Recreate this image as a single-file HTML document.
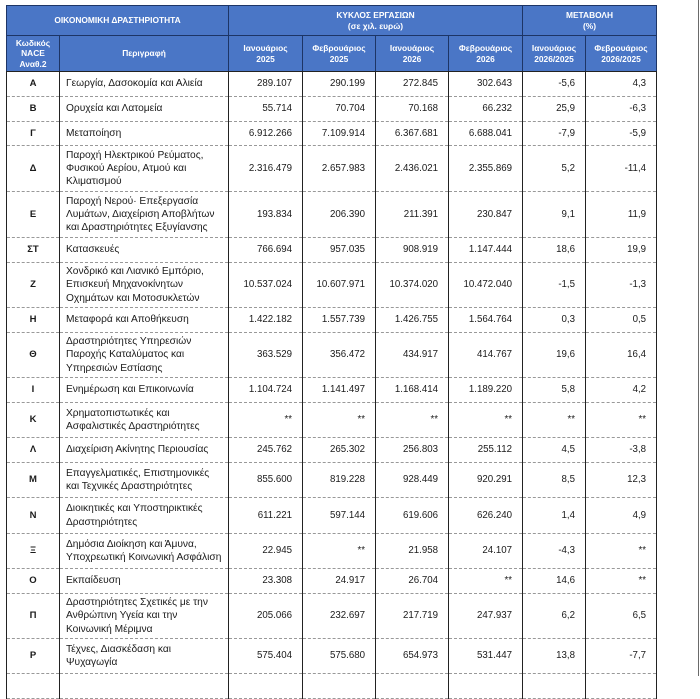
<!DOCTYPE html>
<html>
<head>
<meta charset="utf-8">
<style>
html,body{margin:0;padding:0;background:#fff;}
body{width:700px;height:676px;position:relative;overflow:hidden;font-family:"Liberation Sans","Noto Sans CJK SC",sans-serif;color:#1a1a1a;}
table{position:absolute;left:6px;top:5px;border-collapse:collapse;table-layout:fixed;width:650px;}
td,th{padding:0;font-size:9.7px;line-height:13.3px;overflow:hidden;white-space:nowrap;}
th{background:#4a76c6;color:#fff;font-weight:bold;font-size:8.4px;line-height:10.5px;border:1px solid #1d3566;text-align:center;vertical-align:middle;}
td{border-left:1px solid #222;border-right:1px solid #222;border-top:1px dashed #999;border-bottom:1px dashed #999;vertical-align:middle;}
td.c{text-align:center;font-weight:bold;font-size:9.5px;}
td.d{text-align:left;padding-left:6px;font-size:10.2px;}
td.n{text-align:right;padding-right:10px;}
tr.h2 th{border-bottom:1px solid #222;}
.rl{position:absolute;left:698px;top:0;width:1px;height:676px;background:#6a6a6a;}
</style>
</head>
<body>
<table>
<colgroup>
<col style="width:53px"><col style="width:169px"><col style="width:74px"><col style="width:73px"><col style="width:73px"><col style="width:74px"><col style="width:63px"><col style="width:71px">
</colgroup>
<tr style="height:30px"><th colspan="2">ΟΙΚΟΝΟΜΙΚΗ ΔΡΑΣΤΗΡΙΟΤΗΤΑ</th><th colspan="4">ΚΥΚΛΟΣ ΕΡΓΑΣΙΩΝ<br>(σε χιλ. ευρώ)</th><th colspan="2">ΜΕΤΑΒΟΛΗ<br>(%)</th></tr>
<tr class="h2" style="height:36px"><th>Κωδικός<br>NACE<br>Αναθ.2</th><th>Περιγραφή</th><th>Ιανουάριος<br>2025</th><th>Φεβρουάριος<br>2025</th><th>Ιανουάριος<br>2026</th><th>Φεβρουάριος<br>2026</th><th>Ιανουάριος<br>2026/2025</th><th>Φεβρουάριος<br>2026/2025</th></tr>
<tr style="height:25px"><td class="c">Α</td><td class="d">Γεωργία, Δασοκομία και Αλιεία</td><td class="n">289.107</td><td class="n">290.199</td><td class="n">272.845</td><td class="n">302.643</td><td class="n">-5,6</td><td class="n">4,3</td></tr>
<tr style="height:25px"><td class="c">Β</td><td class="d">Ορυχεία και Λατομεία</td><td class="n">55.714</td><td class="n">70.704</td><td class="n">70.168</td><td class="n">66.232</td><td class="n">25,9</td><td class="n">-6,3</td></tr>
<tr style="height:24px"><td class="c">Γ</td><td class="d">Μεταποίηση</td><td class="n">6.912.266</td><td class="n">7.109.914</td><td class="n">6.367.681</td><td class="n">6.688.041</td><td class="n">-7,9</td><td class="n">-5,9</td></tr>
<tr style="height:46px"><td class="c">Δ</td><td class="d">Παροχή Ηλεκτρικού Ρεύματος,<br>Φυσικού Αερίου, Ατμού και<br>Κλιματισμού</td><td class="n">2.316.479</td><td class="n">2.657.983</td><td class="n">2.436.021</td><td class="n">2.355.869</td><td class="n">5,2</td><td class="n">-11,4</td></tr>
<tr style="height:46px"><td class="c">Ε</td><td class="d">Παροχή Νερού· Επεξεργασία<br>Λυμάτων, Διαχείριση Αποβλήτων<br>και Δραστηριότητες Εξυγίανσης</td><td class="n">193.834</td><td class="n">206.390</td><td class="n">211.391</td><td class="n">230.847</td><td class="n">9,1</td><td class="n">11,9</td></tr>
<tr style="height:25px"><td class="c">ΣΤ</td><td class="d">Κατασκευές</td><td class="n">766.694</td><td class="n">957.035</td><td class="n">908.919</td><td class="n">1.147.444</td><td class="n">18,6</td><td class="n">19,9</td></tr>
<tr style="height:45px"><td class="c">Ζ</td><td class="d">Χονδρικό και Λιανικό Εμπόριο,<br>Επισκευή Μηχανοκίνητων<br>Οχημάτων και Μοτοσυκλετών</td><td class="n">10.537.024</td><td class="n">10.607.971</td><td class="n">10.374.020</td><td class="n">10.472.040</td><td class="n">-1,5</td><td class="n">-1,3</td></tr>
<tr style="height:25px"><td class="c">Η</td><td class="d">Μεταφορά και Αποθήκευση</td><td class="n">1.422.182</td><td class="n">1.557.739</td><td class="n">1.426.755</td><td class="n">1.564.764</td><td class="n">0,3</td><td class="n">0,5</td></tr>
<tr style="height:45px"><td class="c">Θ</td><td class="d">Δραστηριότητες Υπηρεσιών<br>Παροχής Καταλύματος και<br>Υπηρεσιών Εστίασης</td><td class="n">363.529</td><td class="n">356.472</td><td class="n">434.917</td><td class="n">414.767</td><td class="n">19,6</td><td class="n">16,4</td></tr>
<tr style="height:25px"><td class="c">Ι</td><td class="d">Ενημέρωση και Επικοινωνία</td><td class="n">1.104.724</td><td class="n">1.141.497</td><td class="n">1.168.414</td><td class="n">1.189.220</td><td class="n">5,8</td><td class="n">4,2</td></tr>
<tr style="height:35px"><td class="c">Κ</td><td class="d">Χρηματοπιστωτικές και<br>Ασφαλιστικές Δραστηριότητες</td><td class="n">**</td><td class="n">**</td><td class="n">**</td><td class="n">**</td><td class="n">**</td><td class="n">**</td></tr>
<tr style="height:25px"><td class="c">Λ</td><td class="d">Διαχείριση Ακίνητης Περιουσίας</td><td class="n">245.762</td><td class="n">265.302</td><td class="n">256.803</td><td class="n">255.112</td><td class="n">4,5</td><td class="n">-3,8</td></tr>
<tr style="height:35px"><td class="c">Μ</td><td class="d">Επαγγελματικές, Επιστημονικές<br>και Τεχνικές Δραστηριότητες</td><td class="n">855.600</td><td class="n">819.228</td><td class="n">928.449</td><td class="n">920.291</td><td class="n">8,5</td><td class="n">12,3</td></tr>
<tr style="height:36px"><td class="c">Ν</td><td class="d">Διοικητικές και Υποστηρικτικές<br>Δραστηριότητες</td><td class="n">611.221</td><td class="n">597.144</td><td class="n">619.606</td><td class="n">626.240</td><td class="n">1,4</td><td class="n">4,9</td></tr>
<tr style="height:35px"><td class="c">Ξ</td><td class="d">Δημόσια Διοίκηση και Άμυνα,<br>Υποχρεωτική Κοινωνική Ασφάλιση</td><td class="n">22.945</td><td class="n">**</td><td class="n">21.958</td><td class="n">24.107</td><td class="n">-4,3</td><td class="n">**</td></tr>
<tr style="height:25px"><td class="c">Ο</td><td class="d">Εκπαίδευση</td><td class="n">23.308</td><td class="n">24.917</td><td class="n">26.704</td><td class="n">**</td><td class="n">14,6</td><td class="n">**</td></tr>
<tr style="height:45px"><td class="c">Π</td><td class="d">Δραστηριότητες Σχετικές με την<br>Ανθρώπινη Υγεία και την<br>Κοινωνική Μέριμνα</td><td class="n">205.066</td><td class="n">232.697</td><td class="n">217.719</td><td class="n">247.937</td><td class="n">6,2</td><td class="n">6,5</td></tr>
<tr style="height:35px"><td class="c">Ρ</td><td class="d">Τέχνες, Διασκέδαση και<br>Ψυχαγωγία</td><td class="n">575.404</td><td class="n">575.680</td><td class="n">654.973</td><td class="n">531.447</td><td class="n">13,8</td><td class="n">-7,7</td></tr>
<tr style="height:25px"><td class="c"></td><td class="d"></td><td class="n"></td><td class="n"></td><td class="n"></td><td class="n"></td><td class="n"></td><td class="n"></td></tr>
</table>
<div class="rl"></div>
</body>
</html>
